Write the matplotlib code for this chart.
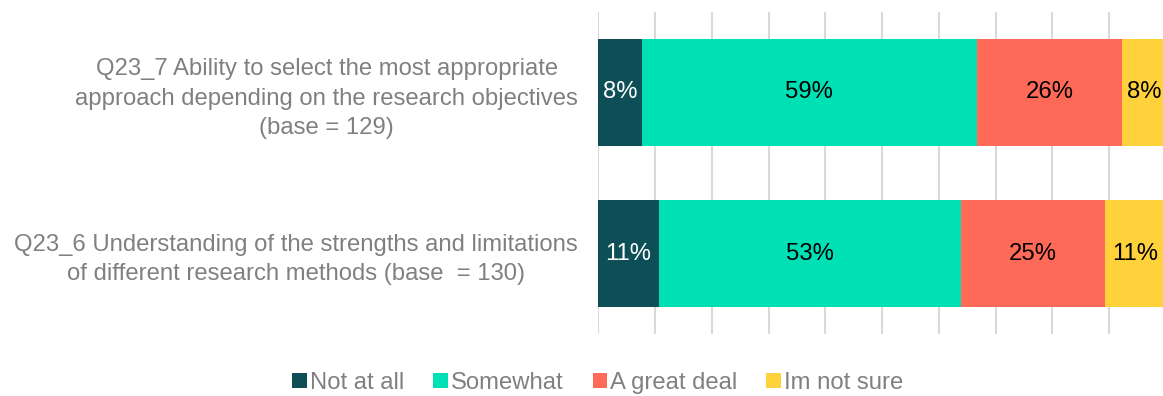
import matplotlib
matplotlib.use("Agg")
import matplotlib.pyplot as plt
import numpy as np

categories = [
    "Q23_7 Ability to select the most appropriate\napproach depending on the research objectives\n(base = 129)",
    "Q23_6 Understanding of the strengths and limitations\nof different research methods (base  = 130)",
]
series_names = ["Not at all", "Somewhat", "A great deal", "Im not sure"]
not_at_all = [7.7, 10.7]
somewhat = [59.0, 53.2]
great_deal = [25.6, 25.4]
not_sure = [7.7, 10.7]
series_values = [not_at_all, somewhat, great_deal, not_sure]
colors = ["#0e4f57", "#00e0b5", "#ff6a58", "#ffd23b"]
text_colors = ["white", "black", "black", "black"]

plt.rcParams['font.family'] = ['Liberation Sans', 'DejaVu Sans']

W, H = 1163, 396
FS = 17.2
fig = plt.figure(figsize=(W / 100, H / 100), dpi=100)
ax = fig.add_axes([598.25 / W, (H - 334) / H, (1165.75 - 598.25) / W, 322 / H])

y = np.arange(len(categories))
left = np.zeros(len(categories))
handles = []
for name, vals, c, tc in zip(series_names, series_values, colors, text_colors):
    vals = np.array(vals)
    b = ax.barh(y, vals, left=left, height=0.67, color=c, label=name, zorder=3)
    handles.append(b)
    for yi, l, v in zip(y, left, vals):
        ax.text(l + v / 2, yi, f"{v:.0f}%", ha="center", va="center",
                fontsize=FS, color=tc, zorder=4)
    left = left + vals

ax.set_xlim(0, 100)
ax.set_ylim(1.5, -0.5)
ax.set_xticks(np.arange(0, 101, 10))
ax.xaxis.grid(True, color="#d9d9d9", linewidth=1.5, zorder=0)
ax.tick_params(axis="x", length=0, labelbottom=False)
ax.set_yticks(y)
ax.set_yticklabels(categories, fontsize=FS, color="#808080", multialignment="center",
                   linespacing=1.42)
ax.tick_params(axis="y", length=0, pad=14.4)
for s in ax.spines.values():
    s.set_visible(False)

fig.legend(handles=handles, labels=series_names, loc="center",
           bbox_to_anchor=(598 / W, (H - 383) / H), ncol=4, frameon=False,
           fontsize=FS, labelcolor="#808080", handlelength=0.6, handleheight=0.6,
           handletextpad=0.15, columnspacing=1.2)

fig.savefig("out.png", dpi=100)
